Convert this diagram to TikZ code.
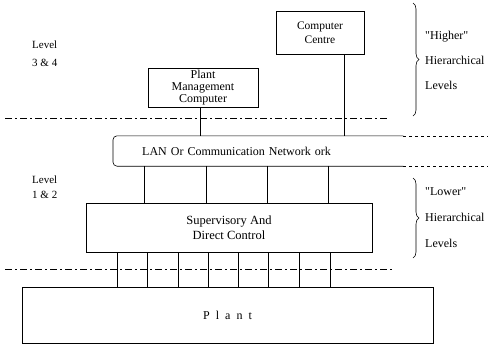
\documentclass[tikz,border=0pt]{standalone}
\usepackage{fontspec}
\setmainfont{Liberation Serif}
\usetikzlibrary{decorations.pathreplacing}
\tikzset{
  ctl/box/.style={
    draw=black,
    line width=0.6pt,
    fill=white,
    align=center,
    inner sep=0pt,
    font=\fontsize{12}{12}\selectfont
  },
  ctl/open/.style={
    align=left,
    inner ysep=0pt,
    font=\fontsize{12}{12}\selectfont
  },
  ctl/label/.style={align=left, inner sep=0pt, font=\fontsize{11}{12}\selectfont},
  ctl/link/.style={draw=black, line width=0.6pt},
  ctl/divider/.style={line width=0.7pt, dash pattern=on 7pt off 3pt on 2pt off 3pt},
  ctl/brace/.style={decorate, decoration={brace, amplitude=6pt}, line width=0.6pt}
}

\begin{document}
\begin{tikzpicture}[x=1pt,y=-1pt]
  \useasboundingbox (0,0) rectangle (488,346);
  % upper levels
  \node[ctl/box,minimum width=88pt,minimum height=43pt,font=\fontsize{11.5}{14}\selectfont] (centre) at (320,32.5) {Computer\\Centre};
  \node[ctl/box,minimum width=110pt,minimum height=39pt] (pmc) at (203,87.5) {Plant\\Management\\Computer};
  \node[ctl/open,minimum width=290pt,minimum height=30pt,text width=232pt,inner xsep=29pt,anchor=west] (lan) at (113,151) {LAN Or Communication Network ork};
  \draw[ctl/link,rounded corners=4pt] (lan.north east) -- (lan.north west) -- (lan.south west) -- (lan.south east);
  \draw[ctl/link,dashed] (lan.north east) -- ++(85,0);
  \draw[ctl/link,dashed] (lan.south east) -- ++(85,0);
  % lower levels
  \node[ctl/box,minimum width=286pt,minimum height=49pt,font=\fontsize{12.5}{15}\selectfont] (sup) at (229,227.5) {Supervisory And\\Direct Control};
  \node[ctl/box,minimum width=411pt,minimum height=56pt] (plant) at (227.5,315) {P~~l~~a~~n~~t};
  \draw[ctl/link] (pmc.south -| 200,0) -- (200,0 |- lan.north);
  \draw[ctl/link] (344,0 |- centre.south) -- (344,0 |- lan.north);
  \foreach \x in {144,206,267,328}{\draw[ctl/link] (\x,0 |- lan.south) -- (\x,0 |- sup.north);}
  \foreach \x in {117,147,178,208,238,268,299,330}{\draw[ctl/link] (\x,0 |- sup.south) -- (\x,0 |- plant.north);}
  % level dividers
  \draw[ctl/divider] (5,118) -- (387,118);
  \draw[ctl/divider] (5,269) -- (393,269);
  \node[ctl/label,anchor=west] (upper) at (32,54) {Level\\[6pt]3 \& 4};
  \node[ctl/label,anchor=west] (lower) at (32,187.5) {Level\\[3pt]1 \& 2};
  % braces
  \draw[ctl/brace] (413,3) -- (413,116);
  \draw[ctl/brace] (413,178) -- (413,258);
  \node[ctl/label,anchor=west,font=\fontsize{12}{12}\selectfont] (higher) at (425,60) {\textquotedbl Higher\textquotedbl\\[13pt]Hierarchical\\[13pt]Levels};
  \node[ctl/label,anchor=west,font=\fontsize{12}{12}\selectfont] (lowerlv) at (425,218) {\textquotedbl Lower\textquotedbl\\[14pt]Hierarchical\\[14pt]Levels};
\end{tikzpicture}
\end{document}
